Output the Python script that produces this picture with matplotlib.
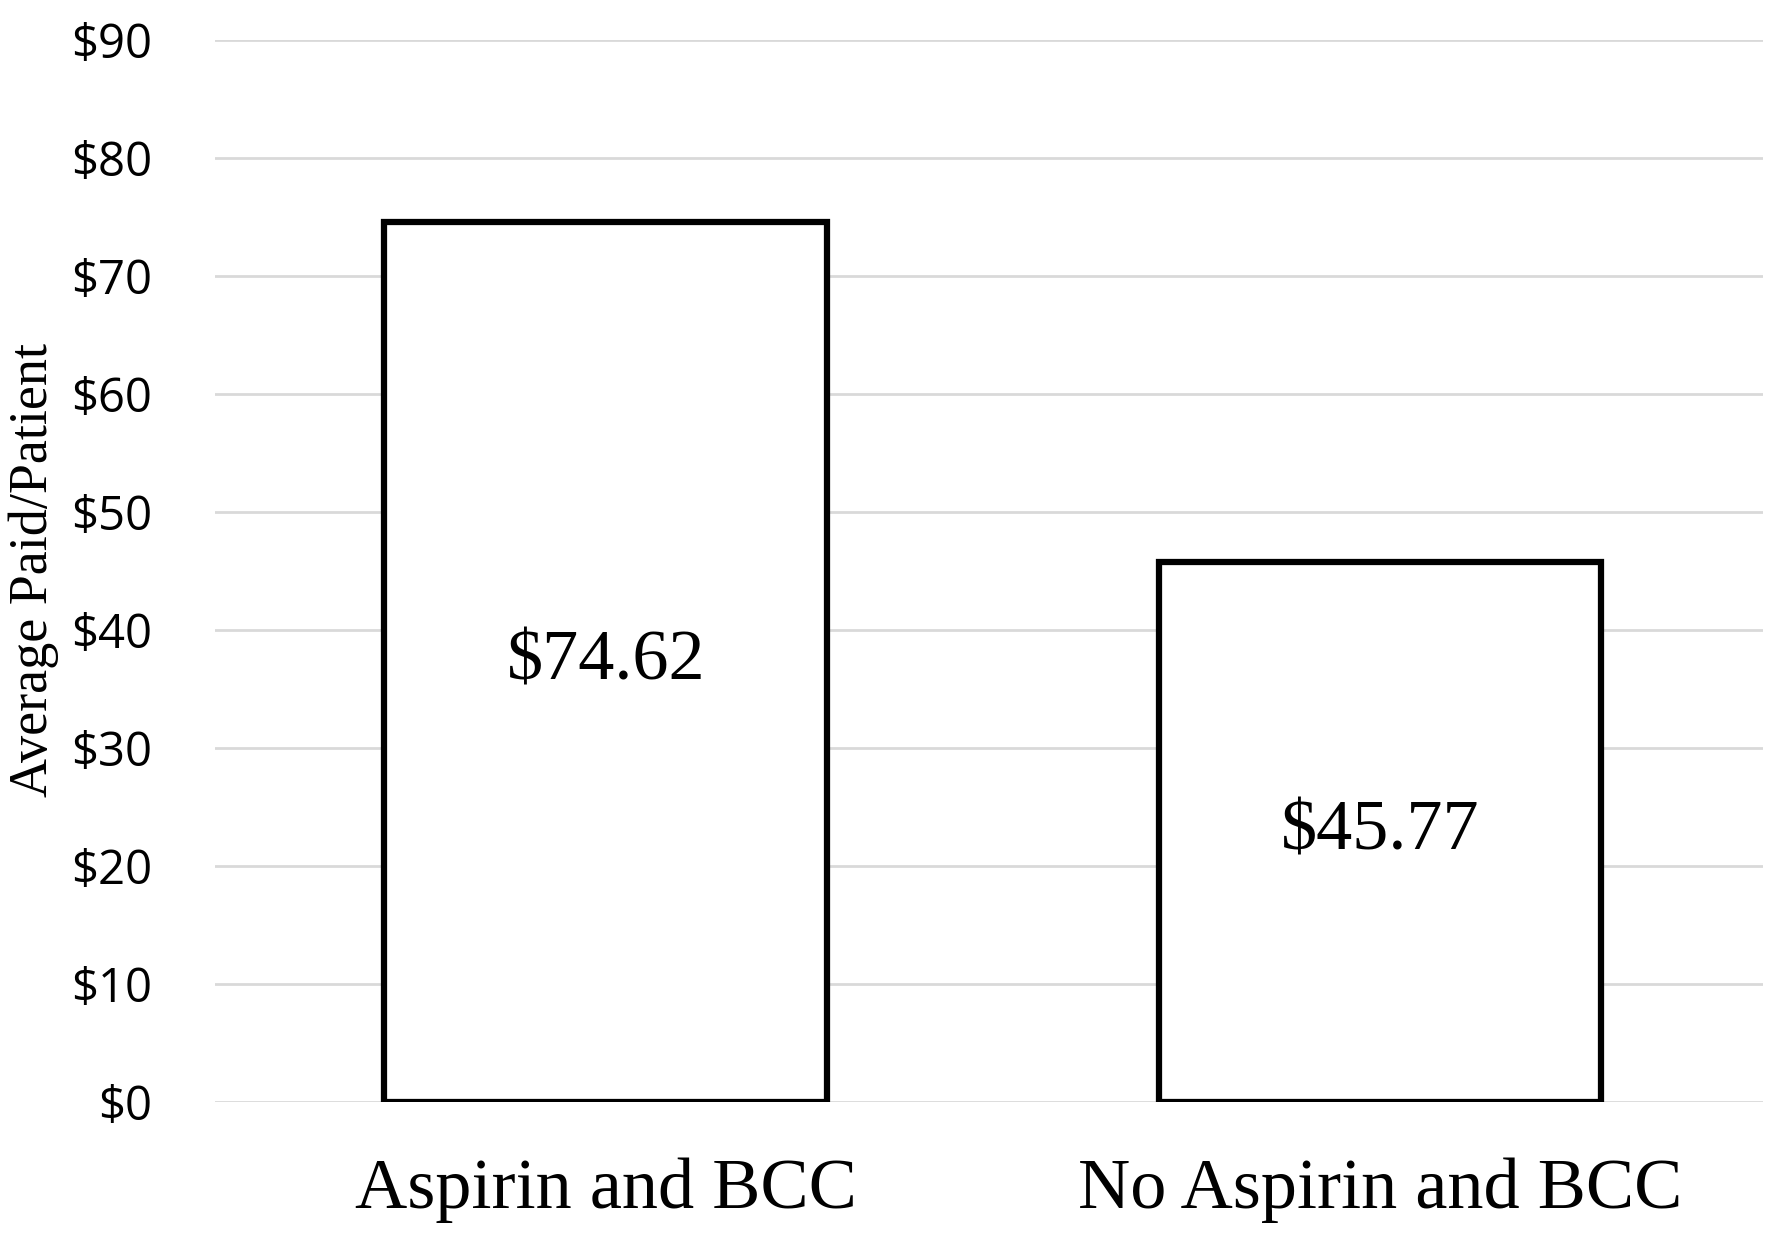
import numpy as np
import matplotlib.pyplot as plt

categories = ['Aspirin and BCC', 'No Aspirin and BCC']
values = [74.62, 45.77]
value_labels = ['$74.62', '$45.77']
yticks = [0, 10, 20, 30, 40, 50, 60, 70, 80, 90]

fig = plt.figure(figsize=(17.72, 12.4), dpi=100)
ax = fig.add_axes([0.1213, 0.1113, 0.8737, 0.8564])

x = np.arange(len(categories))
ax.bar(x, values, width=0.572, color='white', edgecolor='black', linewidth=4.5, zorder=3)

for xi, v, lab in zip(x, values, value_labels):
    ax.text(xi, v / 2, lab, ha='center', va='center', fontsize=52,
            family='Liberation Serif', zorder=4)

ax.set_xlim(-0.505, 1.495)
ax.set_ylim(0, 90)
ax.set_yticks(yticks)
ax.set_yticklabels(['$' + str(t) for t in yticks], family='Open Sans', fontsize=34)
ax.set_xticks(x)
ax.set_xticklabels(categories, family='Liberation Serif', fontsize=52)
ax.tick_params(axis='y', length=0, pad=45)
ax.tick_params(axis='x', length=0, pad=40)
ax.grid(axis='y', color='#d9d9d9', linewidth=2, zorder=0)
for s in ax.spines.values():
    s.set_visible(False)

fig.text(0.019, 0.54, 'Average Paid/Patient', rotation=90, ha='center', va='center',
         family='Liberation Serif', fontsize=39)

fig.savefig('out.png', dpi=100)
